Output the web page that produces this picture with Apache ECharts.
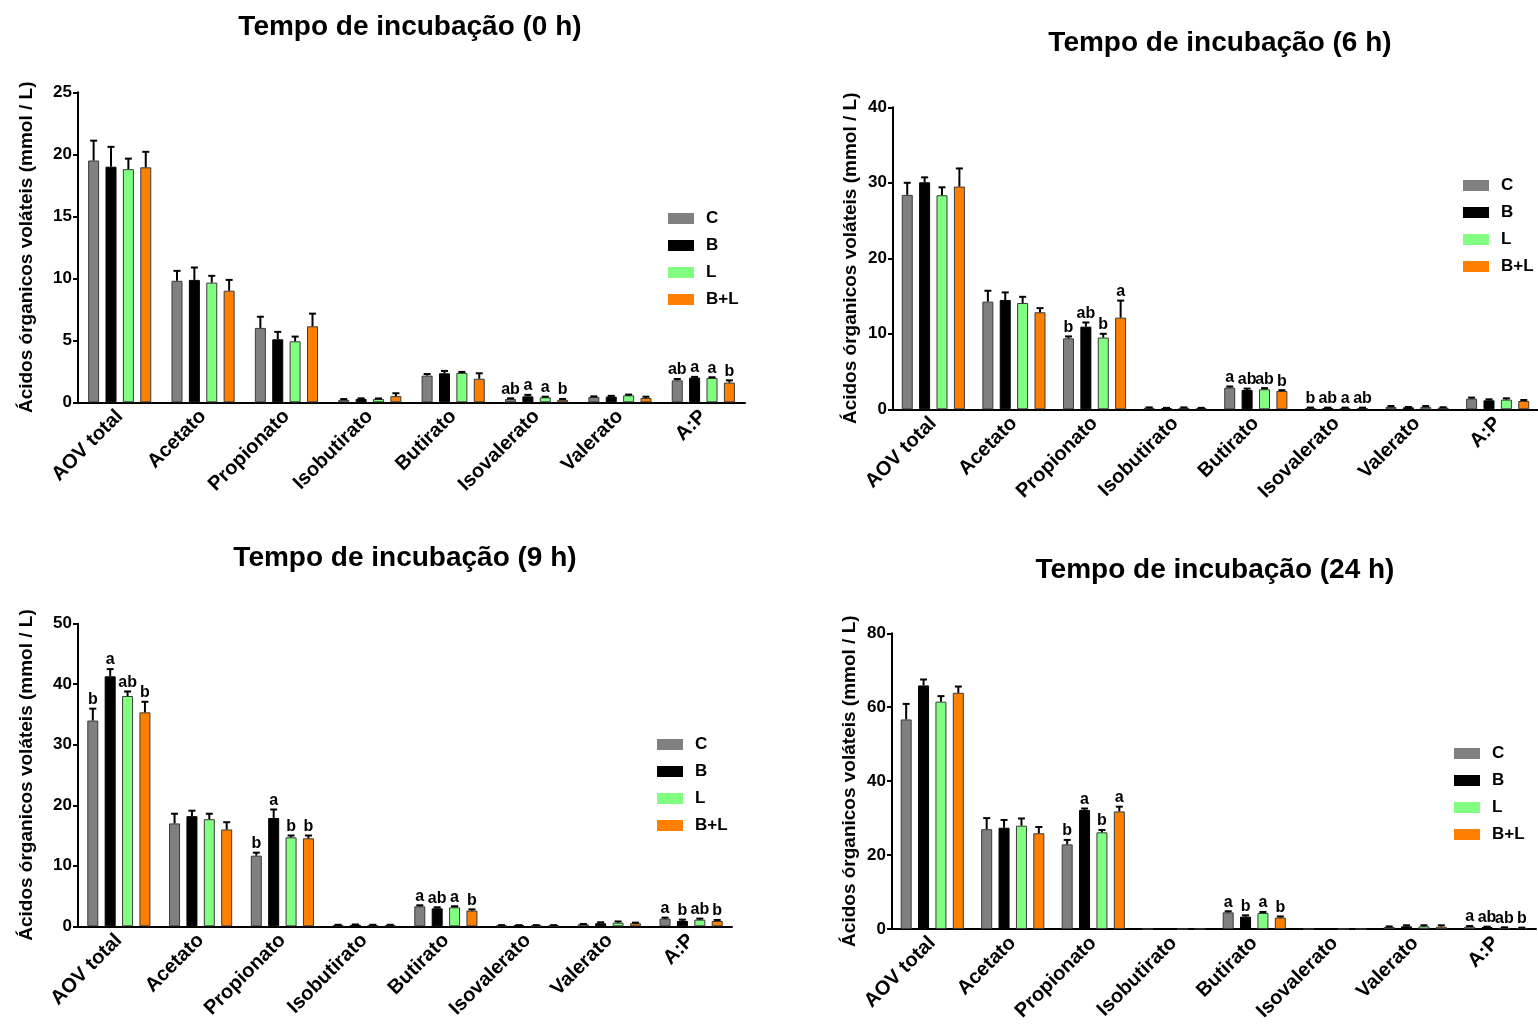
<!DOCTYPE html>
<html><head><meta charset="utf-8">
<script src="https://cdn.jsdelivr.net/npm/echarts@6/dist/echarts.min.js"></script>
<style>html,body{margin:0;padding:0;background:#fff}#c{width:1538px;height:1024px}</style>
</head><body><div id="c"></div>
<script>
// ---------- DATA ----------
const categories = ['AOV total','Acetato','Propionato','Isobutirato','Butirato','Isovalerato','Valerato','A:P'];
const treatments = ['C','B','L','B+L'];
const yTicks0h = [0,5,10,15,20,25];
const yTicks6h = [0,10,20,30,40];
const yTicks9h = [0,10,20,30,40,50];
const yTicks24h = [0,20,40,60,80];

// 0 h
const C_0h   = [19.5, 9.8, 6.0, 0.2, 2.15, 0.27, 0.43, 1.77];
const C_0h_sd = [1.6, 0.8, 0.9, 0.06, 0.13, 0.05, 0.05, 0.11];
const B_0h   = [19.0, 9.87, 5.08, 0.27, 2.34, 0.48, 0.46, 1.99];
const B_0h_sd = [1.6, 1.0, 0.6, 0.05, 0.19, 0.12, 0.06, 0.06];
const L_0h   = [18.8, 9.65, 4.92, 0.27, 2.37, 0.4, 0.56, 1.96];
const L_0h_sd = [0.85, 0.55, 0.38, 0.04, 0.08, 0.05, 0.06, 0.06];
const BL_0h  = [18.95, 9.0, 6.13, 0.5, 1.9, 0.2, 0.35, 1.59];
const BL_0h_sd = [1.25, 0.87, 1.02, 0.23, 0.44, 0.07, 0.1, 0.18];
const C_0h_let  = ['','','','','','ab','','ab'];
const B_0h_let  = ['','','','','','a','','a'];
const L_0h_let  = ['','','','','','a','','a'];
const BL_0h_let = ['','','','','','b','','b'];

// 6 h
const C_6h   = [28.4, 14.26, 9.4, 0.2, 2.87, 0.18, 0.3, 1.41];
const C_6h_sd = [1.6, 1.44, 0.25, 0.05, 0.15, 0.05, 0.14, 0.14];
const B_6h   = [30.07, 14.48, 10.95, 0.15, 2.56, 0.18, 0.26, 1.19];
const B_6h_sd = [0.65, 1.0, 0.55, 0.04, 0.18, 0.04, 0.05, 0.13];
const L_6h   = [28.35, 14.08, 9.5, 0.2, 2.65, 0.18, 0.3, 1.28];
const L_6h_sd = [1.05, 0.82, 0.5, 0.05, 0.15, 0.04, 0.13, 0.17];
const BL_6h  = [29.5, 12.85, 12.14, 0.15, 2.43, 0.18, 0.22, 1.1];
const BL_6h_sd = [2.4, 0.55, 2.26, 0.04, 0.1, 0.04, 0.05, 0.13];
const C_6h_let  = ['','','b','','a','b','',''];
const B_6h_let  = ['','','ab','','ab','ab','',''];
const L_6h_let  = ['','','b','','ab','a','',''];
const BL_6h_let = ['','','a','','b','ab','',''];

// 9 h
const C_9h   = [34.0, 17.0, 11.67, 0.2, 3.3, 0.15, 0.33, 1.27];
const C_9h_sd = [1.96, 1.6, 0.5, 0.05, 0.17, 0.04, 0.05, 0.16];
const B_9h   = [41.3, 18.2, 17.9, 0.25, 2.97, 0.15, 0.5, 0.88];
const B_9h_sd = [1.2, 0.9, 1.4, 0.05, 0.17, 0.04, 0.16, 0.22];
const L_9h   = [38.05, 17.7, 14.7, 0.2, 3.14, 0.15, 0.6, 1.1];
const L_9h_sd = [0.75, 0.9, 0.3, 0.05, 0.17, 0.04, 0.2, 0.17];
const BL_9h  = [35.35, 16.0, 14.54, 0.2, 2.6, 0.15, 0.5, 0.88];
const BL_9h_sd = [1.75, 1.2, 0.46, 0.05, 0.2, 0.04, 0.1, 0.17];
const C_9h_let  = ['b','','b','','a','','','a'];
const B_9h_let  = ['a','','a','','ab','','','b'];
const L_9h_let  = ['ab','','b','','a','','','ab'];
const BL_9h_let = ['b','','b','','b','','','b'];

// 24 h
const C_24h   = [56.7, 27.0, 22.9, 0, 4.5, 0, 0.54, 0.63];
const C_24h_sd = [4.2, 3.0, 1.2, 0, 0.3, 0, 0.15, 0.17];
const B_24h   = [65.9, 27.4, 32.2, 0, 3.34, 0, 0.72, 0.54];
const B_24h_sd = [1.6, 2.1, 0.4, 0, 0.36, 0, 0.28, 0.1];
const L_24h   = [61.5, 27.95, 26.15, 0, 4.33, 0, 0.72, 0.36];
const L_24h_sd = [1.5, 1.95, 0.65, 0, 0.27, 0, 0.28, 0.1];
const BL_24h  = [63.9, 25.9, 31.8, 0, 3.07, 0, 0.63, 0.27];
const BL_24h_sd = [1.7, 1.7, 1.3, 0, 0.33, 0, 0.37, 0.1];
const C_24h_let  = ['','','b','','a','','','a'];
const B_24h_let  = ['','','a','','b','','','ab'];
const L_24h_let  = ['','','b','','a','','','ab'];
const BL_24h_let = ['','','a','','b','','','b'];

// ---------- LAYOUT / STYLE ----------
const FONT = "'Liberation Sans', Arial, Helvetica, sans-serif";
const colors = ['#808080', '#000000', '#80ff80', '#ff8000'];
const borders = ['#3a3a3a', '#000000', '#3a3a3a', '#3a3a3a'];
const BAR_W = 11, BAR_GAP = 0.58;
const STEP = BAR_W * (1 + BAR_GAP);
const yName = 'Ácidos órganicos voláteis (mmol / L)';

const panels = [
  {title:'Tempo de incubação (0 h)', tx:410, ty:27, grid:{left:78, top:92.3, width:667, height:310}, ticks:yTicks0h, nameGap:42,
   legend:{left:663, top:205}, means:[C_0h,B_0h,L_0h,BL_0h], sds:[C_0h_sd,B_0h_sd,L_0h_sd,BL_0h_sd], lets:[C_0h_let,B_0h_let,L_0h_let,BL_0h_let]},
  {title:'Tempo de incubação (6 h)', tx:1220, ty:43, grid:{left:893, top:107.3, width:652, height:302}, ticks:yTicks6h, nameGap:33,
   legend:{left:1458, top:172}, means:[C_6h,B_6h,L_6h,BL_6h], sds:[C_6h_sd,B_6h_sd,L_6h_sd,BL_6h_sd], lets:[C_6h_let,B_6h_let,L_6h_let,BL_6h_let]},
  {title:'Tempo de incubação (9 h)', tx:405, ty:558, grid:{left:78, top:623.7, width:654, height:302.6}, ticks:yTicks9h, nameGap:42,
   legend:{left:652, top:731}, means:[C_9h,B_9h,L_9h,BL_9h], sds:[C_9h_sd,B_9h_sd,L_9h_sd,BL_9h_sd], lets:[C_9h_let,B_9h_let,L_9h_let,BL_9h_let]},
  {title:'Tempo de incubação (24 h)', tx:1215, ty:570, grid:{left:892, top:633.3, width:644, height:295.7}, ticks:yTicks24h, nameGap:33,
   legend:{left:1449, top:740}, means:[C_24h,B_24h,L_24h,BL_24h], sds:[C_24h_sd,B_24h_sd,L_24h_sd,BL_24h_sd], lets:[C_24h_let,B_24h_let,L_24h_let,BL_24h_let]}
];

const grids = [], xAxes = [], yAxes = [], series = [], legends = [], graphics = [];

panels.forEach((p, pi) => {
  grids.push(Object.assign({containLabel:false}, p.grid));
  xAxes.push({
    type:'category', gridIndex:pi, data:categories,
    axisLine:{lineStyle:{color:'#000', width:2}},
    axisTick:{alignWithLabel:true, length:6, lineStyle:{color:'#000', width:2}},
    axisLabel:{interval:0, rotate:45, margin:11, color:'#000', fontWeight:'bold', fontSize:20, fontFamily:FONT}
  });
  const tk = p.ticks;
  yAxes.push({
    type:'value', gridIndex:pi, min:tk[0], max:tk[tk.length-1], interval:tk[1]-tk[0],
    name:yName, nameLocation:'middle', nameGap:p.nameGap, nameRotate:90,
    nameTextStyle:{color:'#000', fontWeight:'bold', fontSize:19, fontFamily:FONT},
    axisLine:{show:true, lineStyle:{color:'#000', width:2}},
    axisTick:{show:true, length:5, lineStyle:{color:'#000', width:2}},
    axisLabel:{color:'#000', fontWeight:'bold', fontSize:17, fontFamily:FONT, margin:6},
    splitLine:{show:false}
  });
  treatments.forEach((t, ti) => {
    series.push({
      type:'bar', name:t, xAxisIndex:pi, yAxisIndex:pi, data:p.means[ti],
      barWidth:BAR_W, barGap:(BAR_GAP*100)+'%',
      itemStyle:{color:colors[ti], borderColor:borders[ti], borderWidth:1},
      emphasis:{disabled:true}, animation:false
    });
  });
  const edata = [];
  treatments.forEach((t, ti) => {
    categories.forEach((c, ci) => edata.push([ci, p.means[ti][ci], p.sds[ti][ci], ti]));
  });
  const lets = p.lets;
  series.push({
    type:'custom', xAxisIndex:pi, yAxisIndex:pi, data:edata, z:5, animation:false, silent:true,
    renderItem:function(params, api){
      const ci = api.value(0), m = api.value(1), s = api.value(2), ti = api.value(3);
      const base = api.coord([ci, m]);
      const top = api.coord([ci, m + s]);
      const x = base[0] + (ti - 1.5) * STEP;
      const ch = [];
      if (s > 0) {
        ch.push({type:'line', shape:{x1:x, y1:base[1], x2:x, y2:top[1]}, style:{stroke:'#000', lineWidth:2}});
        ch.push({type:'line', shape:{x1:x-3.5, y1:top[1], x2:x+3.5, y2:top[1]}, style:{stroke:'#000', lineWidth:2}});
      }
      const l = lets[ti][ci];
      if (l) ch.push({type:'text', x:x, y:top[1]-1, style:{text:l, fill:'#000', font:'bold 16px '+FONT, align:'center', verticalAlign:'bottom'}});
      return {type:'group', children:ch};
    }
  });
  legends.push({
    orient:'vertical', left:p.legend.left, top:p.legend.top, itemWidth:26, itemHeight:11, itemGap:10,
    icon:'rect', data:treatments, selectedMode:false,
    itemStyle:{borderWidth:0},
    textStyle:{color:'#000', fontWeight:'bold', fontSize:17, fontFamily:FONT, padding:[0,0,0,7]}
  });
  graphics.push({type:'text', x:p.tx, y:p.ty, style:{text:p.title, fill:'#000', font:'bold 28px '+FONT, align:'center', verticalAlign:'middle'}});
});

const chart = echarts.init(document.getElementById('c'));
chart.setOption({
  animation:false,
  backgroundColor:'#fff',
  grid:grids, xAxis:xAxes, yAxis:yAxes, series:series, legend:legends,
  graphic:graphics
});
</script></body></html>
